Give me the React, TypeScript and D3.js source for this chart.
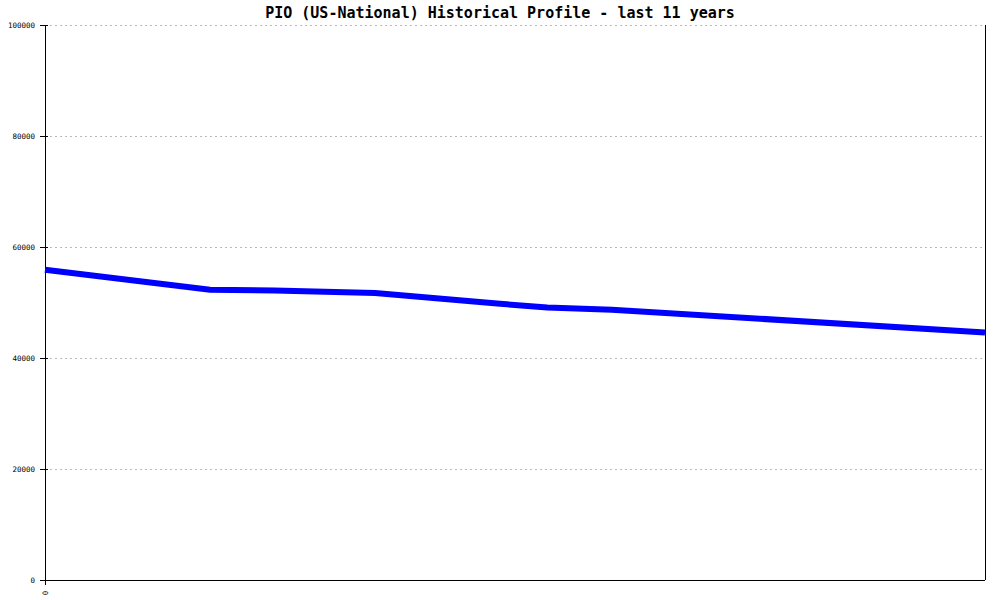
import React from "react";
import * as d3 from "d3";

const TITLE = "PIO (US-National) Historical Profile - last 11 years";
const monthIndex = [0, 23, 32, 46, 63, 70, 79, 131];
const values = [55900, 52300, 52150, 51700, 49800, 49100, 48700, 44600];
const yTicks = [0, 20000, 40000, 60000, 80000, 100000];
const xTickLabels = ["0"];

const W = 1000;
const H = 600;
const M = { left: 45, right: 985, top: 25, bottom: 580 };

export default function App() {
  const x = d3.scaleLinear().domain([0, 131]).range([M.left, M.right]);
  const y = d3.scaleLinear().domain([0, 100000]).range([M.bottom, M.top]);
  const pts = monthIndex.map((m, i) => [x(m), y(values[i])] as [number, number]);
  const line = d3.line().curve(d3.curveLinear)(pts) || "";
  const mono = "'DejaVu Sans Mono', 'Liberation Mono', monospace";
  return (
    <svg
      width={W}
      height={H}
      style={{ position: "absolute", left: 0, top: 0, background: "#fff" }}
    >
      <rect x={0} y={0} width={W} height={H} fill="#fff" />
      <text
        x={500}
        y={18}
        textAnchor="middle"
        fontFamily={mono}
        fontWeight="bold"
        fontSize={15}
        fill="#000"
      >
        {TITLE}
      </text>
      {yTicks.map((t) => (
        <g key={t}>
          {t > 0 && (
            <line
              x1={M.left}
              x2={M.right}
              y1={y(t) + 0.5}
              y2={y(t) + 0.5}
              stroke="#bbb"
              strokeDasharray="2,3"
              strokeWidth={1}
            />
          )}
          <line x1={M.left - 5} x2={M.left + 3} y1={y(t) + 0.5} y2={y(t) + 0.5} stroke="#000" />
          <text
            x={M.left - 10}
            y={y(t) + 3}
            textAnchor="end"
            fontFamily={mono}
            fontSize={7.5}
            fill="#000"
          >
            {t}
          </text>
        </g>
      ))}
      <line x1={M.left + 0.5} x2={M.left + 0.5} y1={M.top} y2={M.bottom + 5} stroke="#000" />
      <line x1={M.right + 0.5} x2={M.right + 0.5} y1={M.top} y2={M.bottom} stroke="#000" />
      <line x1={M.left - 5} x2={M.right} y1={M.bottom + 0.5} y2={M.bottom + 0.5} stroke="#000" />
      {xTickLabels.map((l, i) => (
        <text
          key={i}
          transform={`translate(${x(i) + 3},${M.bottom + 13}) rotate(-90)`}
          textAnchor="middle"
          fontFamily={mono}
          fontSize={7.5}
          fill="#000"
        >
          {l}
        </text>
      ))}
      <path d={line} fill="none" stroke="#0000ff" strokeWidth={6} strokeLinejoin="miter" />
    </svg>
  );
}
